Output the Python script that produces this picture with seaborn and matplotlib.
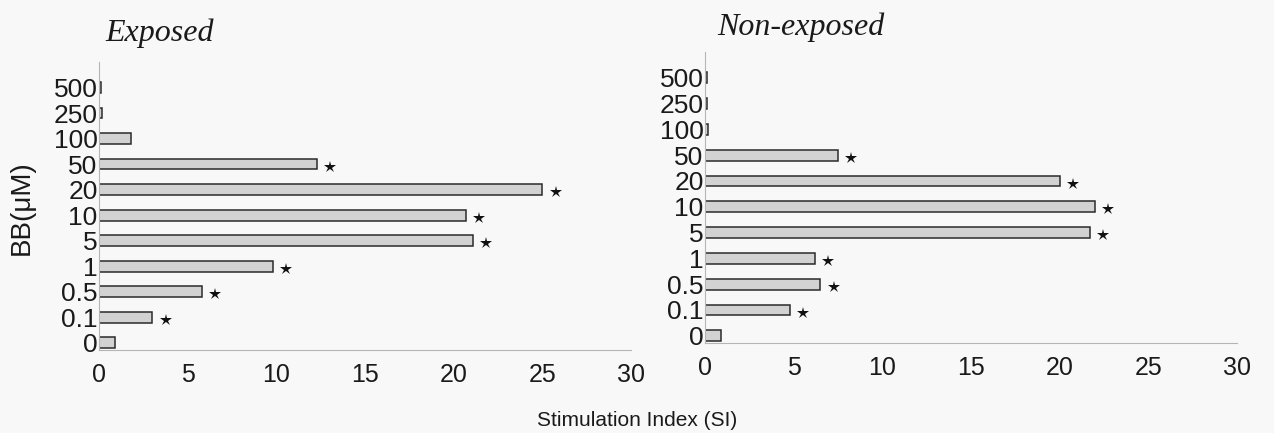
import matplotlib
matplotlib.use("Agg")
import matplotlib.pyplot as plt
import seaborn as sns
import pandas as pd

# BB concentrations (µM), listed top to bottom
concentrations = ["500", "250", "100", "50", "20", "10", "5", "1", "0.5", "0.1", "0"]

# Stimulation index per concentration
si_exposed = [0.1, 0.15, 1.8, 12.3, 25.0, 20.7, 21.1, 9.8, 5.8, 3.0, 0.9]
si_nonexposed = [0.1, 0.1, 0.15, 7.5, 20.0, 22.0, 21.7, 6.2, 6.5, 4.8, 0.9]

# Significance markers (True = starred)
sig_exposed = [False, False, False, True, True, True, True, True, True, True, False]
sig_nonexposed = [False, False, False, True, True, True, True, True, True, True, False]

panel_titles = ["Exposed", "Non-exposed"]
x_ticks = [0, 5, 10, 15, 20, 25, 30]

sns.set_theme(style="white")
plt.rcParams["font.family"] = ["Liberation Sans", "DejaVu Sans"]

bg = "#f8f8f8"
ink = "#1a1a1a"
fig = plt.figure(figsize=(12.74, 4.33), dpi=100, facecolor=bg)

W, H = 1274, 433
panels = [
    dict(x0=99, x1=631, top=62, bottom=350, values=si_exposed, sig=sig_exposed,
         title=panel_titles[0], tx=105, ty=33),
    dict(x0=705, x1=1237, top=52, bottom=343, values=si_nonexposed, sig=sig_nonexposed,
         title=panel_titles[1], tx=717, ty=27),
]

for p in panels:
    ax = fig.add_axes([p["x0"] / W, 1 - p["bottom"] / H,
                       (p["x1"] - p["x0"]) / W, (p["bottom"] - p["top"]) / H])
    ax.set_facecolor(bg)
    df = pd.DataFrame({"BB": concentrations, "SI": p["values"]})
    sns.barplot(data=df, x="SI", y="BB", order=concentrations, orient="h",
                color="#d2d2d2", edgecolor="#2a2a2a", linewidth=1.1,
                width=0.42, saturation=1, ax=ax)
    # star markers beside significant bars
    star_x = [v + 0.75 for v, s in zip(p["values"], p["sig"]) if s]
    star_y = [i + 0.1 for i, s in enumerate(p["sig"]) if s]
    ax.plot(star_x, star_y, linestyle="none", marker="*", markersize=9,
            color="#111111", markeredgewidth=0)
    ax.set_xlim(0, 30)
    ax.set_ylim(10.28, -1.0)
    ax.set_xticks(x_ticks)
    ax.set_xticklabels([str(t) for t in x_ticks], fontsize=18, color=ink)
    ax.tick_params(axis="x", pad=8, length=3, width=0.8, color="#aaaaaa", direction="inout")
    ax.tick_params(axis="y", pad=1, length=0, labelsize=19, labelcolor=ink)
    ax.set_xlabel("")
    ax.set_ylabel("")
    for side in ["top", "right"]:
        ax.spines[side].set_visible(False)
    for side in ["left", "bottom"]:
        ax.spines[side].set_color("#b5b5b5")
        ax.spines[side].set_linewidth(0.8)
    fig.text(p["tx"] / W, 1 - p["ty"] / H, p["title"], fontsize=23, style="italic",
             family="Liberation Serif", ha="left", va="center", color=ink)

fig.text(22 / W, 1 - 208 / H, "BB(μM)", rotation=90, fontsize=20,
         ha="center", va="center", color=ink)
fig.text(637 / W, 1 - 421 / H, "Stimulation Index (SI)", fontsize=15,
         ha="center", va="center", color=ink)

fig.savefig("out.png", dpi=100, facecolor=bg)
